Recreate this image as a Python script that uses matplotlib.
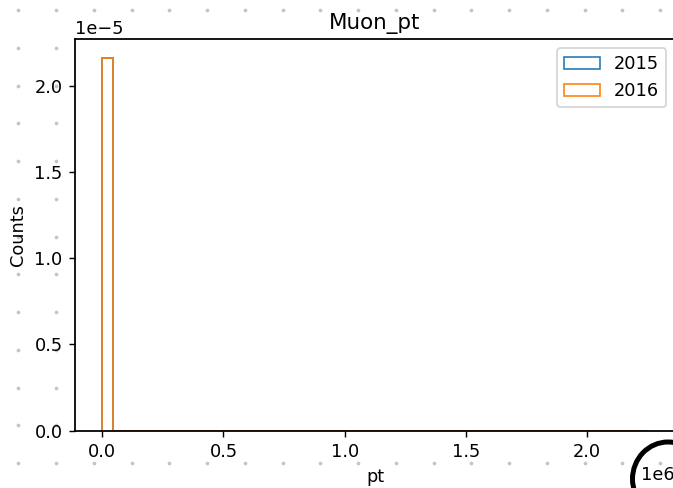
import numpy as np
import matplotlib
matplotlib.use("Agg")
import matplotlib.pyplot as plt
from matplotlib.patches import Ellipse

# Histogram binning for the muon transverse momentum
bin_lo = 0.0
bin_hi = 2.25e6
n_bins = 50

# Normalised bin contents (density) per data-taking year
density_2015 = [2.16e-5] + [0.0] * (n_bins - 1)
density_2016 = [2.16e-5] + [0.0] * (n_bins - 1)

series = [("2015", density_2015), ("2016", density_2016)]

DPI = 128
W, H = 673, 488
fig = plt.figure(figsize=(W / DPI, H / DPI), dpi=DPI)

# Dotted background pattern on the canvas, in pixel units
bg = fig.add_axes([0, 0, 1, 1], zorder=-1)
bg.set_xlim(0, W)
bg.set_ylim(H, 0)
bg.axis("off")
gx, gy = np.meshgrid(18.3 + 37.75 * np.arange(18), 10 + 37.75 * np.arange(13))
bg.scatter(gx.ravel(), gy.ravel(), s=4.3, color="#c4c4c4", linewidths=0)

ax = fig.add_axes([75 / W, 57.3 / H, 600 / W, 391.4 / H])
edges = np.linspace(bin_lo, bin_hi, n_bins + 1)
for name, dens in series:
    ax.hist(edges[:-1], bins=edges, weights=dens, histtype="step",
            linewidth=0.9, label=name)

for sp in ax.spines.values():
    sp.set_linewidth(1.0)

ax.set_title("Muon_pt")
ax.set_xlabel("pt")
ax.set_ylabel("Counts")
ax.legend(loc="upper right")

# Hand-drawn ring around the axis scale factor
ov = fig.add_axes([0, 0, 1, 1], zorder=5)
ov.set_xlim(0, W)
ov.set_ylim(H, 0)
ov.axis("off")
ov.patch.set_alpha(0)
ov.add_patch(Ellipse((668, 479), 71, 74, fill=False, edgecolor="black", linewidth=2.8))

fig.savefig("out.png", dpi=DPI)
